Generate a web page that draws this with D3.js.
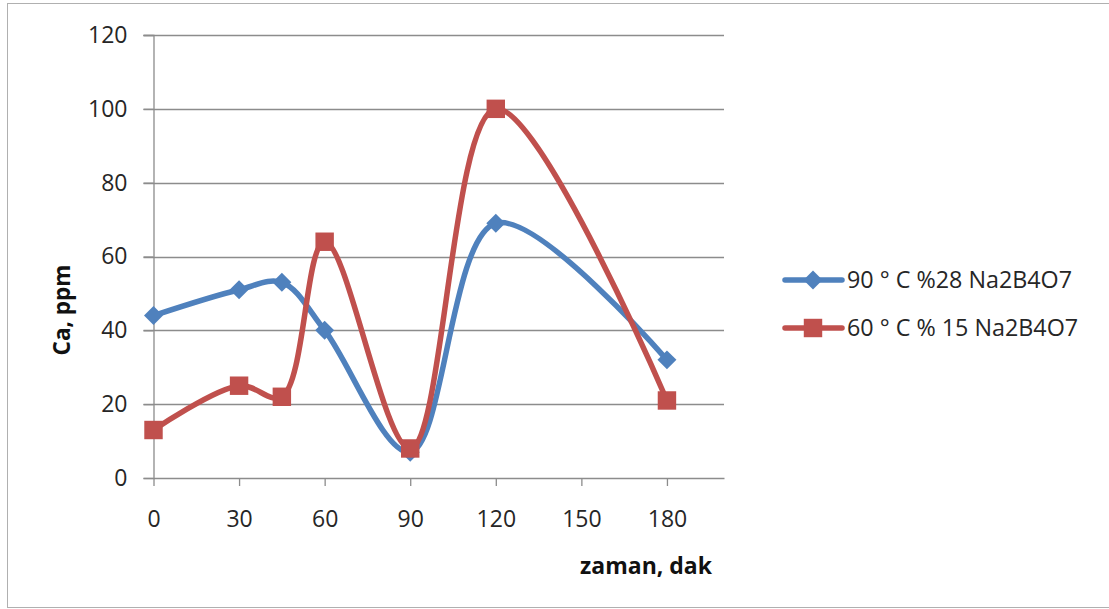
<!DOCTYPE html>
<html>
<head>
<meta charset="utf-8">
<script src="https://cdn.jsdelivr.net/npm/d3@7"></script>
<style>
  body { margin: 0; background: #fff; }
  svg text { font-family: "Open Sans", Lato, sans-serif; }
</style>
</head>
<body>
<script>
// values
const times = [0, 30, 45, 60, 90, 120, 180];
const blueValues = [44, 51, 53, 40, 7, 69, 32];
const redValues = [13, 25, 22, 64, 8, 100, 21];
const seriesNames = ["90 ° C %28 Na2B4O7", "60 ° C % 15 Na2B4O7"];
const xTicks = [0, 30, 60, 90, 120, 150, 180];
const yTicks = [0, 20, 40, 60, 80, 100, 120];

const width = 1109, height = 609;
const blue = "#4f81bd", red = "#c0504d";
const axisGrey = "#8c8c8c";

const svg = d3.select("body").append("svg")
  .attr("width", width)
  .attr("height", height);

// outer chart frame (right edge falls just outside the picture)
svg.append("rect")
  .attr("x", 7.5).attr("y", 3.5)
  .attr("width", 1104).attr("height", 604)
  .attr("fill", "#fff")
  .attr("stroke", "#b0b0b0");

const x = d3.scaleLinear().domain([0, 200]).range([153.5, 724]);
const y = d3.scaleLinear().domain([0, 120]).range([478, 35]);

// gridlines
svg.append("g")
  .selectAll("line")
  .data(yTicks.filter(d => d > 0))
  .join("line")
  .attr("x1", x(0) - 10).attr("x2", x(200))
  .attr("y1", d => Math.round(y(d)) + 0.5).attr("y2", d => Math.round(y(d)) + 0.5)
  .attr("stroke", axisGrey)
  .attr("stroke-width", 1.3);

// y axis
const yAxis = svg.append("g")
  .attr("transform", `translate(${x(0)},0)`)
  .call(d3.axisLeft(y).tickValues(yTicks).tickSize(10).tickPadding(16));
yAxis.select(".domain").attr("stroke", axisGrey).attr("stroke-width", 1.3);
yAxis.selectAll(".tick line").attr("stroke", axisGrey).attr("stroke-width", 1.3);
yAxis.selectAll("text").attr("font-size", 23).attr("fill", "#262626");

// x axis
const xAxis = svg.append("g")
  .attr("transform", `translate(0,${y(0)})`)
  .call(d3.axisBottom(x).tickValues(xTicks).tickSize(8).tickPadding(25).tickSizeOuter(0));
xAxis.select(".domain").attr("stroke", axisGrey).attr("stroke-width", 1.3);
xAxis.selectAll(".tick line").attr("stroke", axisGrey).attr("stroke-width", 1.3);
xAxis.selectAll("text").attr("font-size", 23).attr("fill", "#262626");

// axis titles
svg.append("text")
  .attr("transform", `translate(70,310) rotate(-90)`)
  .attr("text-anchor", "middle")
  .attr("font-size", 22.5)
  .attr("font-weight", "bold")
  .attr("fill", "#111")
  .text("Ca, ppm");

svg.append("text")
  .attr("x", 712).attr("y", 574)
  .attr("text-anchor", "end")
  .attr("font-size", 23)
  .attr("font-weight", "bold")
  .attr("fill", "#111")
  .text("zaman, dak");

const line = d3.line()
  .x(d => x(d[0]))
  .y(d => y(d[1]))
  .curve(d3.curveCatmullRom.alpha(0.5));

// Excel-style diamond: a square turned 45 degrees
const diamond = d3.symbol(d3.symbolSquare, 180)();
const square = d3.symbol(d3.symbolSquare, 340)();

const series = [
  { name: seriesNames[0], color: blue, shape: diamond, rot: 45, values: blueValues },
  { name: seriesNames[1], color: red, shape: square, rot: 0, values: redValues }
];

series.forEach(s => {
  const pts = times.map((t, i) => [t, s.values[i]]);
  const g = svg.append("g");
  g.append("path")
    .attr("d", line(pts))
    .attr("fill", "none")
    .attr("stroke", s.color)
    .attr("stroke-width", 5.5)
    .attr("stroke-linejoin", "round");
  g.selectAll("path.m")
    .data(pts)
    .join("path")
    .attr("class", "m")
    .attr("transform", d => `translate(${x(d[0])},${y(d[1])}) rotate(${s.rot})`)
    .attr("d", s.shape)
    .attr("fill", s.color);
});

// legend
const legend = svg.append("g");
series.forEach((s, i) => {
  const ly = 280 + i * 48;
  legend.append("line")
    .attr("x1", 785).attr("x2", 842)
    .attr("y1", ly).attr("y2", ly)
    .attr("stroke", s.color)
    .attr("stroke-width", 5.5)
    .attr("stroke-linecap", "round");
  legend.append("path")
    .attr("transform", `translate(813,${ly}) rotate(${s.rot})`)
    .attr("d", s.shape)
    .attr("fill", s.color);
  legend.append("text")
    .attr("x", 847).attr("y", ly)
    .attr("dy", "0.36em")
    .attr("font-size", 23.3)
    .attr("fill", "#262626")
    .text(s.name);
});
</script>
</body>
</html>
